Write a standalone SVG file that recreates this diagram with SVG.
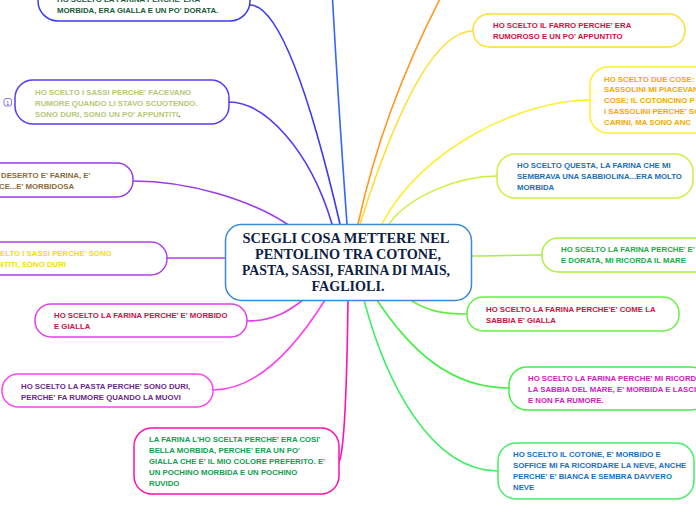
<svg xmlns="http://www.w3.org/2000/svg" width="696" height="520" viewBox="0 0 696 520">
<style>
.n{fill:#fff;stroke-width:1.5}
.t{font-family:"Liberation Sans",Arial,sans-serif;font-weight:bold;font-size:7.8px}
.c{fill:none;stroke-width:1.6;stroke-linecap:round}
.ct{font-family:"Liberation Serif","Times New Roman",serif;font-weight:bold;font-size:15px;fill:#0e1e45;text-anchor:middle}
</style>
<rect width="696" height="520" fill="#fff"/>
<g id="connectors">
<path class="c" stroke="#3a3af0" d="M250,5 Q289,5 340,224"/>
<path class="c" stroke="#3366ff" stroke-width="2" d="M332,-10 Q338,100 347,224"/>
<path class="c" stroke="#ff9922" d="M450,-20 Q385,100 358,224"/>
<path class="c" stroke="#ffdd33" d="M473,31 Q421,31 360,224"/>
<path class="c" stroke="#ffee30" d="M590,100 C520,100 420,150 382,224"/>
<path class="c" stroke="#ccf040" d="M497,176 C460,176 410,195 389,224"/>
<path class="c" stroke="#aaf040" d="M471,256 C500,256 510,255 542,255"/>
<path class="c" stroke="#66ee44" d="M412,301 C430,312 445,314 467,314"/>
<path class="c" stroke="#44ee44" d="M377,300 C410,350 450,388 509,388"/>
<path class="c" stroke="#44ee66" d="M364,300 C385,380 430,471 498,471"/>
<path class="c" stroke="#ff10b0" d="M348,300 C347,380 345,450 339,462"/>
<path class="c" stroke="#ff40f0" d="M213,390 C260,390 300,340 325,300"/>
<path class="c" stroke="#e040e8" d="M247,321 C275,321 290,310 303,300"/>
<path class="c" stroke="#b040e8" d="M167,258 L226,258"/>
<path class="c" stroke="#9a3ae8" d="M133,181 C190,181 250,200 287,224"/>
<path class="c" stroke="#5a3af0" d="M229,102 C265,102 310,150 332,224"/>
</g>
<g id="center">
<rect x="225.5" y="224.5" width="246" height="76" rx="16" fill="#fff" stroke="#3a8ad0" stroke-width="1.5"/>
<text class="ct" x="346" y="243" textLength="207" lengthAdjust="spacingAndGlyphs">SCEGLI COSA METTERE NEL</text>
<text class="ct" x="348" y="258.5" textLength="186" lengthAdjust="spacingAndGlyphs">PENTOLINO TRA COTONE,</text>
<text class="ct" x="346" y="274.5" textLength="208" lengthAdjust="spacingAndGlyphs">PASTA, SASSI, FARINA DI MAIS,</text>
<text class="ct" x="348" y="290.5" textLength="73" lengthAdjust="spacingAndGlyphs">FAGLIOLI.</text>
</g>
<g id="n1">
<rect class="n" x="38" y="-25" width="212" height="46" rx="20" stroke="#3a3af0"/>
<text class="t" fill="#1a5a3a"><tspan x="57" y="1.7">HO SCELTO LA FARINA PERCHE' ERA</tspan><tspan x="57" y="12.7">MORBIDA, ERA GIALLA E UN PO' DORATA.</tspan></text>
</g>
<g id="n2">
<rect class="n" x="473" y="14" width="212" height="33" rx="16" stroke="#ffdd33"/>
<text class="t" fill="#d01040"><tspan x="493" y="28">HO SCELTO IL FARRO PERCHE' ERA</tspan><tspan x="493" y="39">RUMOROSO E UN PO' APPUNTITO</tspan></text>
</g>
<g id="n3">
<rect class="n" x="590" y="67" width="200" height="66" rx="18" stroke="#ffee30"/>
<text class="t" fill="#f5a800"><tspan x="604" y="81.5">HO SCELTO DUE COSE: I</tspan><tspan x="604" y="92.3">SASSOLINI MI PIACEVAN</tspan><tspan x="604" y="103">COSE; IL COTONCINO P</tspan><tspan x="604" y="113.8">I SASSOLINI PERCHE' SO</tspan><tspan x="604" y="124.5">CARINI, MA SONO ANC</tspan></text>
</g>
<g id="n4">
<rect class="n" x="497" y="154" width="196" height="44" rx="18" stroke="#ccf040"/>
<text class="t" fill="#1a70b8"><tspan x="517" y="168">HO SCELTO QUESTA, LA FARINA CHE MI</tspan><tspan x="517" y="179">SEMBRAVA UNA SABBIOLINA...ERA MOLTO</tspan><tspan x="517" y="190">MORBIDA</tspan></text>
</g>
<g id="n5">
<rect class="n" x="542" y="238" width="200" height="34" rx="16" stroke="#aaf040"/>
<text class="t" fill="#22aa44"><tspan x="561" y="252">HO SCELTO LA FARINA PERCHE' E' M</tspan><tspan x="561" y="263">E DORATA, MI RICORDA IL MARE</tspan></text>
</g>
<g id="n6">
<rect class="n" x="467" y="297" width="212" height="34" rx="16" stroke="#66ee44"/>
<text class="t" fill="#d01040"><tspan x="486" y="312">HO SCELTO LA FARINA PERCHE'E' COME LA</tspan><tspan x="486" y="323">SABBIA E' GIALLA</tspan></text>
</g>
<g id="n7">
<rect class="n" x="509" y="367" width="200" height="43" rx="18" stroke="#44ee44"/>
<text class="t" fill="#d020c0"><tspan x="528" y="381">HO SCELTO LA FARINA PERCHE' MI RICORD</tspan><tspan x="528" y="392">LA SABBIA DEL MARE, E' MORBIDA E LASCI</tspan><tspan x="528" y="403">E NON FA RUMORE.</tspan></text>
</g>
<g id="n8">
<rect class="n" x="498" y="443" width="196" height="56" rx="18" stroke="#44ee66"/>
<text class="t" fill="#1a70c0"><tspan x="513" y="457">HO SCELTO IL COTONE, E' MORBIDO E</tspan><tspan x="513" y="468">SOFFICE MI FA RICORDARE LA NEVE, ANCHE</tspan><tspan x="513" y="479">PERCHE' E' BIANCA E SEMBRA DAVVERO</tspan><tspan x="513" y="490">NEVE</tspan></text>
</g>
<g id="n9">
<rect class="n" x="134" y="428" width="205" height="66" rx="18" stroke="#ff10b0"/>
<text class="t" fill="#10a050"><tspan x="149" y="441.5">LA FARINA L'HO SCELTA PERCHE' ERA COSI'</tspan><tspan x="149" y="452.5">BELLA MORBIDA, PERCHE' ERA UN PO'</tspan><tspan x="149" y="463.5">GIALLA CHE E' IL MIO COLORE PREFERITO. E'</tspan><tspan x="149" y="474.5">UN POCHINO MORBIDA E UN POCHINO</tspan><tspan x="149" y="485.5">RUVIDO</tspan></text>
</g>
<g id="n10">
<rect class="n" x="2" y="374" width="211" height="33" rx="16" stroke="#ff40f0"/>
<text class="t" fill="#6a2a8a"><tspan x="21" y="388.5">HO SCELTO LA PASTA PERCHE' SONO DURI,</tspan><tspan x="21" y="399.5">PERCHE' FA RUMORE QUANDO LA MUOVI</tspan></text>
</g>
<g id="n11">
<rect class="n" x="35" y="304" width="212" height="33" rx="16" stroke="#e040e8"/>
<text class="t" fill="#d01048"><tspan x="54" y="318">HO SCELTO LA FARINA PERCHE' E' MORBIDO</tspan><tspan x="54" y="329">E GIALLA</tspan></text>
</g>
<g id="n12">
<rect class="n" x="-60" y="242" width="227" height="33" rx="16" stroke="#b040e8"/>
<text class="t" fill="#f0e000"><tspan x="0" y="256">ELTO I SASSI PERCHE' SONO</tspan><tspan x="-2" y="267">NTITI, SONO DURI</tspan></text>
</g>
<g id="n13">
<rect class="n" x="-80" y="163" width="213" height="34" rx="16" stroke="#9a3ae8"/>
<text class="t" fill="#8b6b3b"><tspan x="1" y="178">DESERTO E' FARINA, E'</tspan><tspan x="-1" y="189">CE...E' MORBIDOSA</tspan></text>
</g>
<g id="n14">
<rect class="n" x="15" y="80" width="214" height="44" rx="18" stroke="#5a3af0"/>
<text class="t" fill="#b7c77a"><tspan x="35" y="94.5">HO SCELTO I SASSI PERCHE' FACEVANO</tspan><tspan x="35" y="105.5">RUMORE QUANDO LI STAVO SCUOTENDO.</tspan><tspan x="35" y="116.5">SONO DURI, SONO UN PO' APPUNTITI<tspan fill="#333">.</tspan></tspan></text>
<rect x="4" y="98.5" width="7.5" height="7.5" rx="2" fill="#fff" stroke="#6655ee" stroke-width="0.8"/>
<text x="7.75" y="104.5" font-family="Liberation Sans,Arial,sans-serif" font-size="6" fill="#6655ee" text-anchor="middle">1</text>
</g>
</svg>
